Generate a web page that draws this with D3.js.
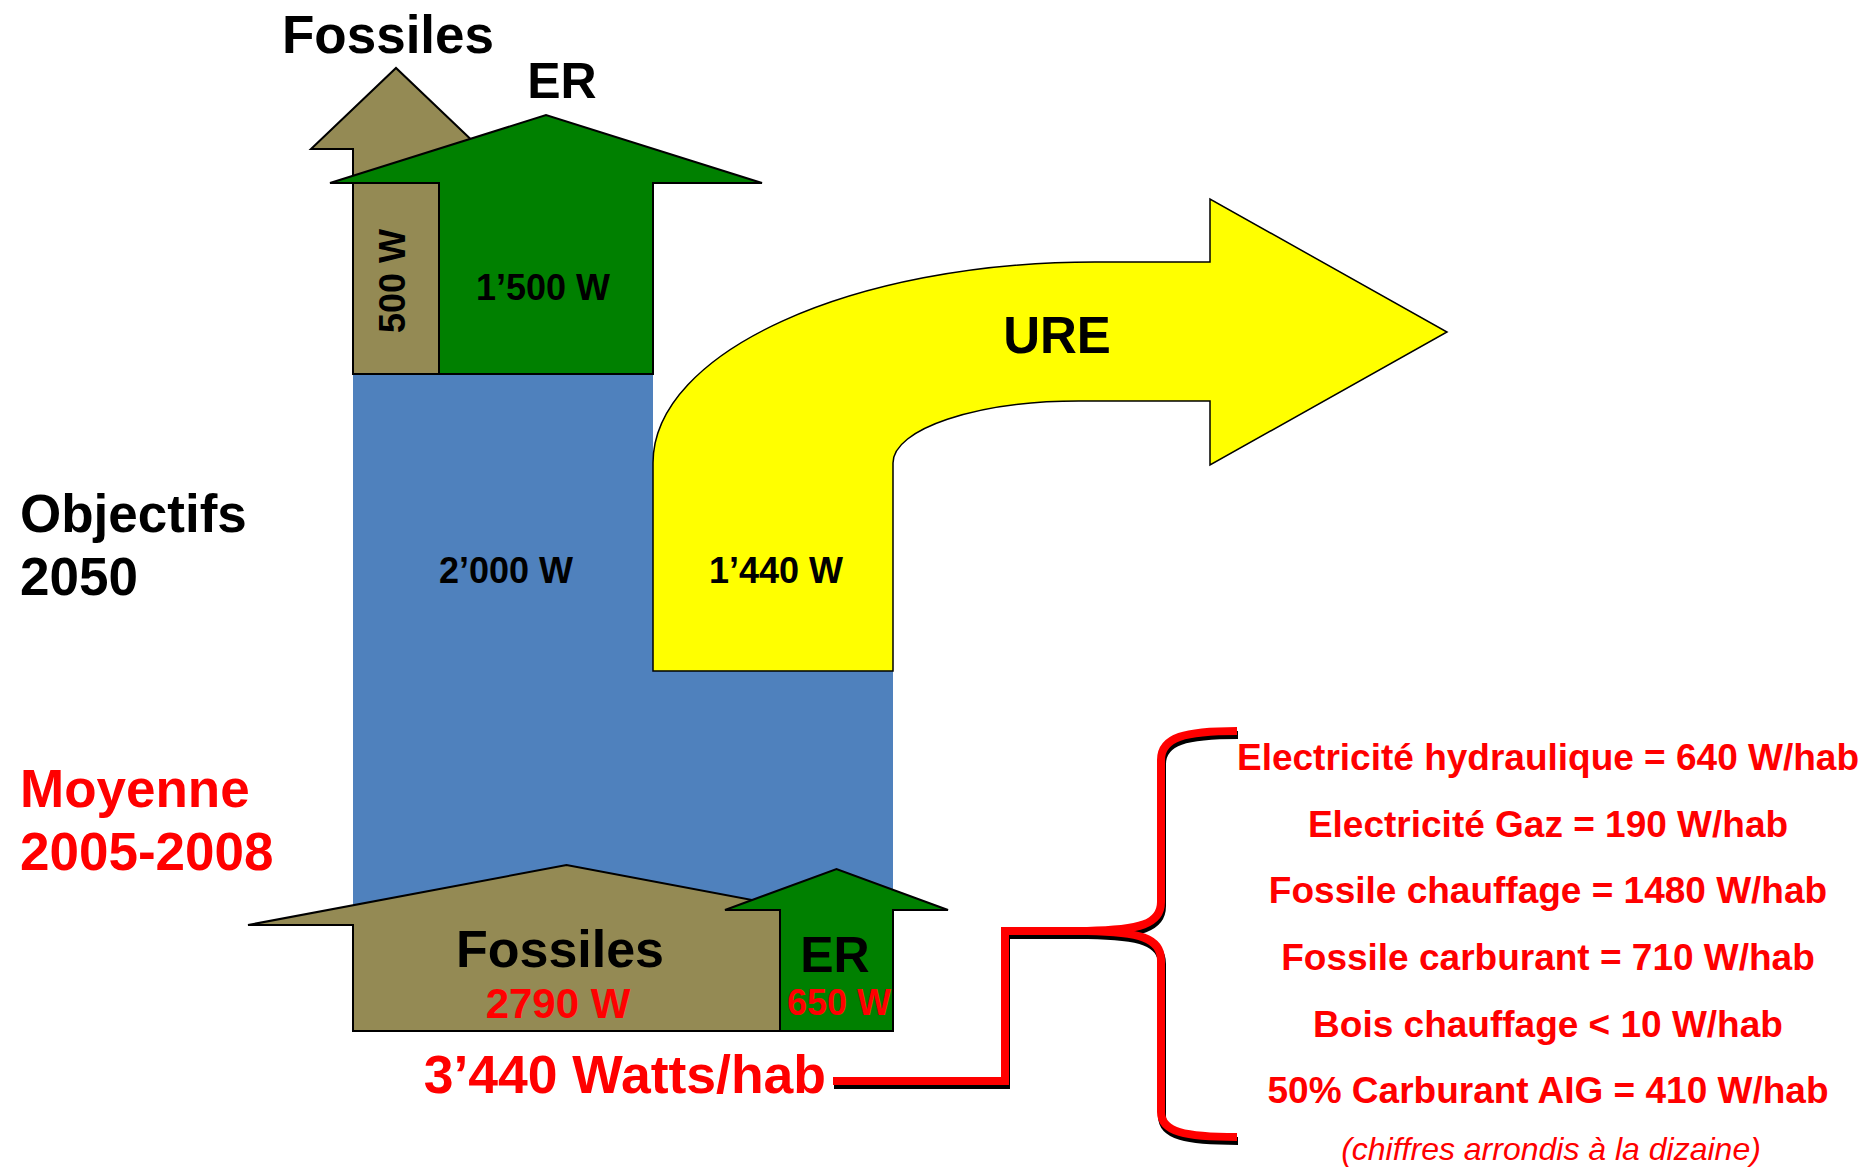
<!DOCTYPE html>
<html>
<head>
<meta charset="utf-8">
<script src="https://cdn.jsdelivr.net/npm/d3@7"></script>
<style>
body { margin: 0; background: #fff; }
text { font-family: "Liberation Sans", Arial, sans-serif; font-weight: bold; }
</style>
</head>
<body>
<svg id="chart"></svg>
<script>
var width = 1866;
var height = 1168;

// Objectifs 2050 (W/hab)
var goalNames = ["Fossiles", "ER"];
var goalWatts = [500, 1500];
var ureWatts = 1440;

// Moyenne 2005-2008 (W/hab)
var nowNames = ["Fossiles", "ER"];
var nowWatts = [2790, 650];

// detail of the current consumption
var detailNames = ["Electricité hydraulique", "Electricité Gaz", "Fossile chauffage",
                   "Fossile carburant", "Bois chauffage", "50% Carburant AIG"];
var detailOps = ["=", "=", "=", "=", "<", "="];
var detailWatts = [640, 190, 1480, 710, 10, 410];

var colors = { Fossiles: "#948A54", ER: "#008000", demand: "#4F81BD", ure: "#FFFF00", red: "#FF0000" };

var goalCum = Array.from(d3.cumsum(goalWatts));   // 500, 2000
var nowCum = Array.from(d3.cumsum(nowWatts));     // 2790, 3440
var goalTotal = goalCum[goalCum.length - 1];
var nowTotal = nowCum[nowCum.length - 1];

// piecewise scale: cumulative watts -> x position of the arrow shafts
var xScale = d3.scaleLinear()
    .domain(d3.sort(Array.from(new Set([0].concat(goalCum, nowCum)))))
    .range([353, 439, 653, 780, 893]);

var fmt = d3.formatLocale({ decimal: ".", thousands: "\u2019", grouping: [3], currency: ["", ""] }).format(",d");

var svg = d3.select("#chart")
    .attr("width", width)
    .attr("height", height);

function upArrow(x0, x1, yBase, yHead, yTip, over) {
  var xm = (x0 + x1) / 2;
  return d3.line()([[x0, yBase], [x0, yHead], [x0 - over, yHead], [xm, yTip],
                    [x1 + over, yHead], [x1, yHead], [x1, yBase]]) + "Z";
}

// blue block : 2'000 W consumption in 2050
var xd0 = xScale(0), xd1 = xScale(goalTotal), xd2 = xScale(goalTotal + ureWatts);
svg.append("path")
    .attr("d", d3.line()([[xd0, 374], [xd1, 374], [xd1, 671], [xd2, 671], [xd2, 925], [xd0, 925]]) + "Z")
    .attr("fill", colors.demand);

// yellow bent arrow : URE
var p = d3.path();
p.moveTo(xd1, 671);
p.lineTo(xd1, 463);
p.bezierCurveTo(xd1, 352, 852, 262, 1095, 262);
p.lineTo(1210, 262);
p.lineTo(1210, 199);
p.lineTo(1447, 332);
p.lineTo(1210, 465);
p.lineTo(1210, 401);
p.lineTo(1079, 401);
p.bezierCurveTo(976, 401, xd2, 429, xd2, 463);
p.lineTo(xd2, 671);
p.closePath();
svg.append("path")
    .attr("d", p.toString())
    .attr("fill", colors.ure)
    .attr("stroke", "#000")
    .attr("stroke-width", 1.5);

// top arrows (2050)
var goalHead = [{ yHead: 149, yTip: 68, over: 42 }, { yHead: 183, yTip: 115, over: 109 }];
goalWatts.forEach(function(w, i) {
  var a = goalHead[i];
  svg.append("path")
      .attr("d", upArrow(xScale(goalCum[i] - w), xScale(goalCum[i]), 374, a.yHead, a.yTip, a.over))
      .attr("fill", colors[goalNames[i]])
      .attr("stroke", "#000")
      .attr("stroke-width", 2);
});

// bottom arrows (2005-2008)
var nowHead = [{ yHead: 925, yTip: 865, over: 105 }, { yHead: 910, yTip: 869, over: 55 }];
nowWatts.forEach(function(w, i) {
  var a = nowHead[i];
  svg.append("path")
      .attr("d", upArrow(xScale(nowCum[i] - w), xScale(nowCum[i]), 1031, a.yHead, a.yTip, a.over))
      .attr("fill", colors[nowNames[i]])
      .attr("stroke", "#000")
      .attr("stroke-width", 2);
});

function label(x, y, str, size, color, anchor) {
  return svg.append("text")
      .attr("x", x)
      .attr("y", y)
      .attr("font-size", size)
      .attr("fill", color || "#000")
      .style("text-anchor", anchor || "middle")
      .text(str);
}

// labels 2050
label(388, 53, goalNames[0], 53);
label(562, 98, goalNames[1], 50);
svg.append("text")
    .attr("transform", "translate(405,281) rotate(-90)")
    .attr("font-size", 36)
    .style("text-anchor", "middle")
    .text(fmt(goalWatts[0]) + " W");
label(543, 300, fmt(goalWatts[1]) + " W", 36);
label(506, 583, fmt(goalTotal) + " W", 36);
label(776, 583, fmt(ureWatts) + " W", 36);
label(1057, 353, "URE", 51);

// side titles
label(20, 532, "Objectifs", 53, "#000", "start");
label(20, 595, "2050", 53, "#000", "start");
label(20, 807, "Moyenne", 53, colors.red, "start");
label(20, 870, "2005-2008", 53, colors.red, "start");

// labels 2005-2008
label(560, 967, nowNames[0], 52);
label(558, 1018, nowWatts[0] + " W", 42, colors.red);
label(835, 972, nowNames[1], 50);
label(839, 1015, nowWatts[1] + " W", 36, colors.red);
label(826, 1093, fmt(nowTotal) + " Watts/hab", 53.5, colors.red, "end");

// connector + brace, black shadow under red line
var connector = d3.line()([[833, 1081], [1005, 1081], [1005, 931], [1090, 931]]);
var brace = "M1237,731 C1185,731 1161,737 1161,760 L1161,902 C1161,924 1140,930 1087,931" +
            " C1140,932 1161,938 1161,960 L1161,1112 C1161,1132 1185,1137 1237,1137";
[connector, brace].forEach(function(d) {
  svg.append("path")
      .attr("d", d)
      .attr("transform", "translate(1,4)")
      .attr("fill", "none")
      .attr("stroke", "#000")
      .attr("stroke-width", 8);
});
[connector, brace].forEach(function(d) {
  svg.append("path")
      .attr("d", d)
      .attr("fill", "none")
      .attr("stroke", colors.red)
      .attr("stroke-width", 8);
});

// detail list
var detailY = [770, 837, 903, 970, 1037, 1103];
detailNames.forEach(function(n, i) {
  label(1548, detailY[i], n + " " + detailOps[i] + " " + detailWatts[i] + " W/hab", 37, colors.red);
});
label(1551, 1160, "(chiffres arrondis à la dizaine)", 32, colors.red)
    .style("font-weight", "normal")
    .style("font-style", "italic");
</script>
</body>
</html>
